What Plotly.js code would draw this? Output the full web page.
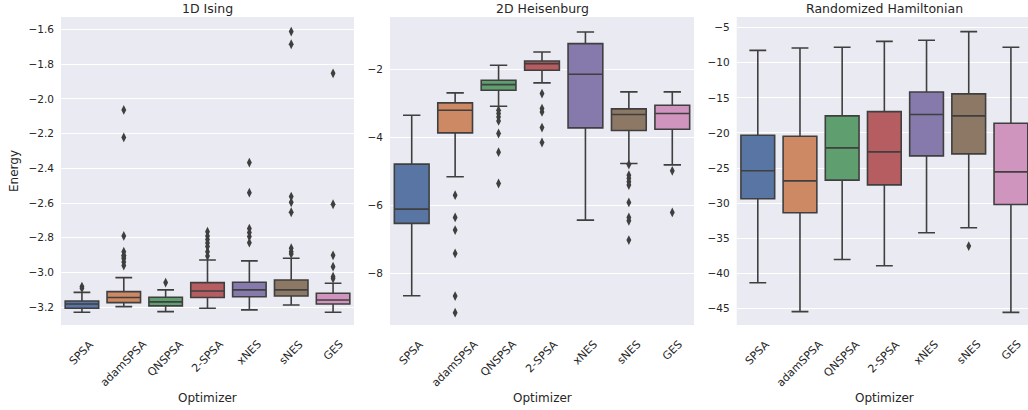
<!DOCTYPE html>
<html>
<head>
<meta charset="utf-8">
<script src="https://cdn.plot.ly/plotly-3.0.1.min.js"></script>
<style>html,body{margin:0;padding:0;background:#fff;}#chart{width:1028px;height:410px;}</style>
</head>
<body>
<div id="chart"></div>
<script>
// ---------- data ----------
const optimizers = ["SPSA", "adamSPSA", "QNSPSA", "2-SPSA", "xNES", "sNES", "GES"];
const panelTitles = ["1D Ising", "2D Heisenburg", "Randomized Hamiltonian"];
const colors = ["#5975a4", "#cc8963", "#5f9e6e", "#b55d60", "#857aab", "#8d7866", "#d095bf"];

// 1D Ising
const ising_lower  = [-3.229, -3.196, -3.225, -3.206, -3.215, -3.187, -3.229];
const ising_q1     = [-3.206, -3.173, -3.192, -3.144, -3.139, -3.135, -3.181];
const ising_median = [-3.181, -3.144, -3.169, -3.106, -3.100, -3.100, -3.158];
const ising_q3     = [-3.164, -3.110, -3.142, -3.058, -3.056, -3.043, -3.119];
const ising_upper  = [-3.114, -3.029, -3.100, -2.928, -2.933, -2.918, -3.062];
const ising_outliers = [
  [-3.081, -3.090],
  [-2.064, -2.222, -2.789, -2.880, -2.900, -2.910, -2.920, -2.940, -2.960],
  [-3.058],
  [-2.765, -2.790, -2.810, -2.830, -2.850, -2.880, -2.905],
  [-2.367, -2.540, -2.747, -2.770, -2.793, -2.828],
  [-1.613, -1.686, -2.563, -2.596, -2.653, -2.860, -2.880, -2.893],
  [-1.853, -2.607, -2.901, -2.966, -3.024, -3.035]
];

// 2D Heisenburg
const heis_lower  = [-8.657, -5.157, -3.078, -2.392, -6.431, -4.765, -4.804];
const heis_q1     = [-6.529, -3.863, -2.608, -2.020, -3.716, -3.794, -3.755];
const heis_median = [-6.108, -3.196, -2.441, -1.824, -2.137, -3.324, -3.294];
const heis_q3     = [-4.784, -2.980, -2.314, -1.745, -1.235, -3.157, -3.049];
const heis_upper  = [-3.343, -2.686, -1.873, -1.480, -0.892, -2.657, -2.657];
const heis_outliers = [
  [],
  [-5.696, -6.353, -6.725, -7.412, -8.667, -9.157],
  [-3.196, -3.294, -3.392, -3.510, -3.882, -4.431, -5.353],
  [-2.706, -3.147, -3.245, -3.706, -4.147],
  [],
  [-4.794, -5.108, -5.200, -5.300, -5.400, -5.912, -6.353, -6.451, -7.020],
  [-4.980, -6.206]
];

// Randomized Hamiltonian
const rand_lower  = [-41.35, -45.47, -38.03, -38.93, -34.23, -33.52, -45.57];
const rand_q1     = [-29.39, -31.38, -26.73, -27.40, -23.27, -22.98, -30.20];
const rand_median = [-25.40, -26.83, -22.13, -22.70, -17.38, -17.57, -25.55];
const rand_q3     = [-20.33, -20.47, -17.57, -16.96, -14.16, -14.44, -18.62];
const rand_upper  = [-8.23, -7.89, -7.80, -6.95, -6.80, -5.57, -7.80];
const rand_outliers = [[], [], [], [], [], [-36.13], []];

// ---------- build ----------
const panels = [
  {lo: ising_lower, q1: ising_q1, med: ising_median, q3: ising_q3, hi: ising_upper, out: ising_outliers},
  {lo: heis_lower, q1: heis_q1, med: heis_median, q3: heis_q3, hi: heis_upper, out: heis_outliers},
  {lo: rand_lower, q1: rand_q1, med: rand_median, q3: rand_q3, hi: rand_upper, out: rand_outliers}
];

const edge = "#3f3f3f";
const txt = "#262626";
const FONT = "DejaVu Sans, sans-serif";

const traces = [];
panels.forEach((p, pi) => {
  const xa = pi === 0 ? "x" : "x" + (pi + 1);
  const ya = pi === 0 ? "y" : "y" + (pi + 1);
  optimizers.forEach((name, i) => {
    traces.push({
      type: "box",
      x: [name],
      q1: [p.q1[i]], median: [p.med[i]], q3: [p.q3[i]],
      lowerfence: [p.lo[i]], upperfence: [p.hi[i]],
      fillcolor: colors[i],
      line: {color: edge, width: 1.6},
      width: 0.8,
      whiskerwidth: 0.5,
      boxpoints: false,
      xaxis: xa, yaxis: ya,
      showlegend: false,
      hoverinfo: "skip"
    });
    if (p.out[i].length) {
      traces.push({
        type: "scatter", mode: "markers",
        x: p.out[i].map(() => name), y: p.out[i],
        marker: {symbol: "diamond-tall", size: 7, color: edge},
        xaxis: xa, yaxis: ya, showlegend: false, hoverinfo: "skip"
      });
    }
  });
});

const yDom = [1 - 325 / 410, 1 - 17 / 410];
const xDoms = [[61 / 1028, 354 / 1028], [390 / 1028, 694 / 1028], [736.7 / 1028, 1]];
const xRanges = [[-0.5, 6.5], [-0.5, 6.5], [-0.5, 6.405]];
const yRanges = [[-3.302, -1.529], [-9.52, -0.451], [-47.37, -3.48]];
const yTicks = [
  {tick0: -3.2, dtick: 0.2, tickformat: ".1f"},
  {tick0: -8, dtick: 2, tickformat: "d"},
  {tick0: -45, dtick: 5, tickformat: "d"}
];

const layout = {
  width: 1028, height: 410,
  margin: {l: 0, r: 0, t: 0, b: 0},
  paper_bgcolor: "#ffffff",
  plot_bgcolor: "#eaeaf2",
  font: {family: FONT, color: txt, size: 10},
  boxmode: "overlay",
  showlegend: false,
  annotations: []
};

for (let pi = 0; pi < 3; pi++) {
  const sx = pi === 0 ? "" : String(pi + 1);
  layout["xaxis" + sx] = {
    domain: xDoms[pi], anchor: "y" + sx,
    type: "category", categoryorder: "array", categoryarray: optimizers,
    range: xRanges[pi],
    showticklabels: false, showgrid: false, zeroline: false, ticks: "",
    fixedrange: true
  };
  layout["yaxis" + sx] = {
    domain: yDom, anchor: "x" + sx,
    range: yRanges[pi], tickmode: "linear",
    tick0: yTicks[pi].tick0, dtick: yTicks[pi].dtick, tickformat: yTicks[pi].tickformat,
    showgrid: true, gridcolor: "#ffffff", gridwidth: 1,
    zeroline: false, ticks: "", ticklabelstandoff: 6,
    tickfont: {family: FONT, size: 10.5, color: txt},
    fixedrange: true
  };
  const cx = (xDoms[pi][0] + xDoms[pi][1]) / 2;
  const cxTitle = pi === 2 ? (736.7 + 1032) / 2 / 1028 : cx;
  layout.annotations.push({
    text: panelTitles[pi], xref: "paper", yref: "paper",
    x: cxTitle, y: 1 - 8 / 410, xanchor: "center", yanchor: "middle",
    showarrow: false, font: {family: FONT, size: 12.5, color: txt}
  });
  layout.annotations.push({
    text: "Optimizer", xref: "paper", yref: "paper",
    x: cxTitle, y: 1 - 398 / 410, xanchor: "center", yanchor: "middle",
    showarrow: false, font: {family: FONT, size: 12, color: txt}
  });
  optimizers.forEach((name) => {
    layout.annotations.push({
      text: name, xref: "x" + sx, yref: "paper",
      x: name, y: 1 - 335 / 410, xanchor: "center", yanchor: "top",
      textangle: -45, showarrow: false,
      font: {family: FONT, size: 11, color: txt}
    });
  });
}
layout.annotations.push({
  text: "Energy", xref: "paper", yref: "paper",
  x: 14 / 1028, y: (yDom[0] + yDom[1]) / 2, xanchor: "center", yanchor: "middle",
  textangle: -90, showarrow: false, font: {family: FONT, size: 12, color: txt}
});

Plotly.newPlot("chart", traces, layout, {staticPlot: true, displayModeBar: false});
</script>
</body>
</html>
